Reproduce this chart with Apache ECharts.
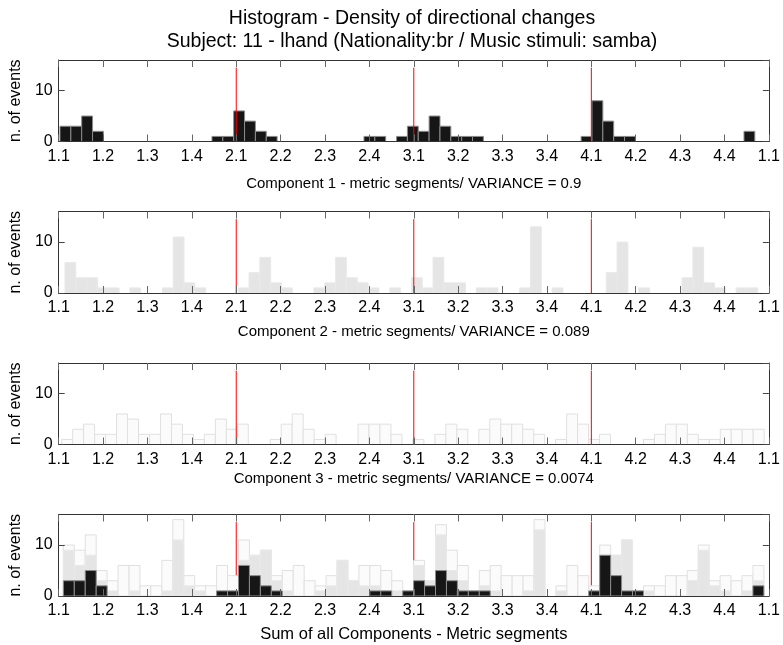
<!DOCTYPE html>
<html>
<head>
<meta charset="utf-8">
<script src="https://cdn.jsdelivr.net/npm/echarts@6/dist/echarts.min.js"></script>
<style>
  html, body { margin: 0; padding: 0; background: #fff; }
  #main { width: 783px; height: 645px; }
</style>
</head>
<body>
<div id="main"></div>
<script>
// x tick labels (metric position: beat.subdivision)
var tickLabels = ['1.1','1.2','1.3','1.4','2.1','2.2','2.3','2.4','3.1','3.2','3.3','3.4','4.1','4.2','4.3','4.4','1.1'];
var beatMarks = ['2.1','3.1','4.1'];

// histogram counts, 64 bins per measure
var comp1 = [3,3,5,2,0,0,0,0, 0,0,0,0,0,0,1,1, 6,4,2,1,0,0,0,0, 0,0,0,0,1,1,0,1,
             3,2,5,3,1,1,1,0, 0,0,0,0,0,0,0,0, 1,8,4,1,1,0,0,0, 0,0,0,0,0,0,0,2];
var comp2 = [6,3,3,1,1,0,1,0, 0,1,11,2,1,0,0,0, 1,4,7,2,1,0,0,1, 2,7,3,2,1,0,1,0,
             3,1,7,2,2,0,1,1, 0,0,1,13,0,1,0,0, 0,0,4,10,0,1,0,0, 0,3,9,2,1,0,1,1];
var comp3 = [1,3,4,2,2,6,5,2, 2,6,4,2,1,2,5,3, 4,0,0,1,4,6,3,1, 2,0,0,4,4,4,2,0,
             1,0,2,4,3,0,3,5, 4,4,3,2,0,1,6,4, 1,2,0,0,0,1,2,4, 4,2,1,1,3,3,3,3];

var panelNames = [
  'Component 1 - metric segments/ VARIANCE = 0.9',
  'Component 2 - metric segments/ VARIANCE = 0.089',
  'Component 3 - metric segments/ VARIANCE = 0.0074',
  'Sum of all Components - Metric segments'
];

// bin grid of each panel (in tick units)
var binGrid = [
  {start: 0.029, width: 0.2446},
  {start: 0.141, width: 0.2439},
  {start: 0.067, width: 0.2473},
  {start: 0.105, width: 0.2466}
];

var FONT = 'Liberation Sans, Arial, sans-serif';
var BLACK = {fill: '#161616', stroke: '#8c8c8c'};
var GRAY = {fill: '#e5e5e5', stroke: '#e9e9e9'};
var WHITE = {fill: '#fbfbfb', stroke: '#e0e0e0'};

var chart = echarts.init(document.getElementById('main'));

function toData(arr) {
  return arr.map(function (v, k) { return [k, v]; });
}
function sumOf() {
  var lists = arguments;
  return comp1.map(function (v, k) {
    var s = 0;
    for (var j = 0; j < lists.length; j++) s += lists[j][k];
    return s;
  });
}

function histSeries(panel, arr, look, z) {
  var bins = binGrid[panel];
  return {
    type: 'custom',
    xAxisIndex: panel * 2,
    yAxisIndex: panel * 2,
    z: z,
    silent: true,
    data: toData(arr),
    renderItem: function (params, api) {
      var k = api.value(0), v = api.value(1);
      if (!v) return;
      var x0 = bins.start + k * bins.width;
      var a = api.coord([x0, 0]);
      var b = api.coord([x0 + bins.width, v]);
      return {
        type: 'rect',
        shape: {x: a[0], y: b[1], width: b[0] - a[0], height: a[1] - b[1]},
        style: {fill: look.fill, stroke: look.stroke, lineWidth: 1}
      };
    }
  };
}

function markSeries(panel, z) {
  return {
    type: 'custom',
    xAxisIndex: panel * 2,
    yAxisIndex: panel * 2,
    z: z,
    silent: true,
    data: beatMarks.map(function (m) { return [tickLabels.indexOf(m), 14.5]; }),
    renderItem: function (params, api) {
      var a = api.coord([api.value(0), 0]);
      var b = api.coord([api.value(0), api.value(1)]);
      return {
        type: 'line',
        shape: {x1: a[0], y1: a[1], x2: b[0], y2: b[1]},
        style: {stroke: '#ff0000', lineWidth: 1}
      };
    }
  };
}

var tops = [60, 211.5, 363, 514.5];
var nameGaps = [35, 31, 27, 30];
var nameSizes = [15, 15, 15, 16.5];
var grids = [], xAxes = [], yAxes = [];
var frame = {show: true, onZero: false, lineStyle: {color: '#333', width: 1}};
var tick = {show: true, inside: true, length: 7, lineStyle: {color: '#666'}};

tops.forEach(function (t, i) {
  grids.push({left: 57, width: 715, top: t, height: 81.5});
  xAxes.push({
    gridIndex: i, type: 'value', min: 0, max: 16, interval: 1, position: 'bottom', z: 5,
    axisLine: frame, axisTick: tick, splitLine: {show: false},
    axisLabel: {
      color: '#000', fontSize: 16, fontFamily: FONT, margin: 7,
      formatter: function (v) { return tickLabels[Math.round(v)]; }
    },
    name: panelNames[i], nameLocation: 'middle', nameGap: nameGaps[i],
    nameTextStyle: {color: '#000', fontSize: nameSizes[i], fontFamily: FONT}
  });
  xAxes.push({
    gridIndex: i, type: 'value', min: 0, max: 16, interval: 1, position: 'top', z: 5,
    axisLine: frame, axisTick: tick, axisLabel: {show: false}, splitLine: {show: false}
  });
  yAxes.push({
    gridIndex: i, type: 'value', min: 0, max: 16, interval: 10, position: 'left', z: 5,
    axisLine: frame, axisTick: {show: true, inside: true, length: 6, lineStyle: {color: '#444'}},
    splitLine: {show: false},
    axisLabel: {color: '#000', fontSize: 16, fontFamily: FONT, margin: 6, showMaxLabel: false},
    name: 'n. of events', nameLocation: 'middle', nameRotate: 90, nameGap: 32,
    nameTextStyle: {color: '#000', fontSize: 16, fontFamily: FONT}
  });
  yAxes.push({
    gridIndex: i, type: 'value', min: 0, max: 16, interval: 10, position: 'right', z: 5,
    axisLine: frame, axisTick: {show: true, inside: true, length: 6, lineStyle: {color: '#444'}},
    splitLine: {show: false}, axisLabel: {show: false}
  });
});

var series = [
  histSeries(0, comp1, BLACK, 2), markSeries(0, 3),
  histSeries(1, comp2, GRAY, 2), markSeries(1, 3),
  histSeries(2, comp3, WHITE, 2), markSeries(2, 3),
  markSeries(3, 1),
  histSeries(3, sumOf(comp1, comp2, comp3), WHITE, 2),
  histSeries(3, sumOf(comp1, comp2), GRAY, 2),
  histSeries(3, comp1, BLACK, 2)
];

var option = {
  animation: false,
  backgroundColor: '#fff',
  title: {
    text: 'Histogram - Density of directional changes\nSubject: 11 - lhand (Nationality:br / Music stimuli: samba)',
    left: 407, top: 2, textAlign: 'center',
    textStyle: {color: '#000', fontSize: 19.5, fontWeight: 'normal', fontFamily: FONT, lineHeight: 23}
  },
  grid: grids,
  xAxis: xAxes,
  yAxis: yAxes,
  series: series
};
chart.setOption(option);
</script>
</body>
</html>
